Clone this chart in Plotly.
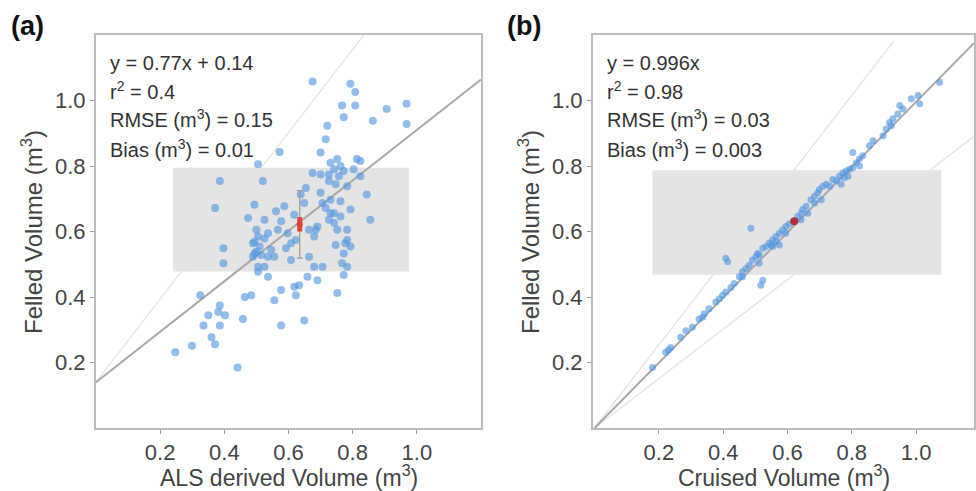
import numpy as np
import plotly.graph_objects as go

# ---------------- Data ----------------
# Panel (a): ALS derived volume vs felled volume
als_x = [0.675, 0.793, 0.808, 0.767, 0.808, 0.906, 0.968, 0.968, 0.772, 0.863,
         0.721, 0.716, 0.700, 0.572, 0.813, 0.505, 0.731, 0.752, 0.742, 0.762,
         0.726, 0.757, 0.772, 0.803, 0.675, 0.700, 0.824, 0.520, 0.386, 0.654,
         0.638, 0.844, 0.371, 0.494, 0.587, 0.561, 0.618, 0.793, 0.855, 0.706,
         0.731, 0.726, 0.742, 0.752, 0.762, 0.474, 0.525, 0.685, 0.680, 0.783,
         0.777, 0.747, 0.489, 0.494, 0.397, 0.397, 0.536, 0.505, 0.592, 0.608,
         0.664, 0.706, 0.767, 0.772, 0.659, 0.690, 0.484, 0.556, 0.577, 0.623,
         0.633, 0.752, 0.325, 0.458, 0.577, 0.649, 0.386, 0.381, 0.402, 0.350,
         0.335, 0.386, 0.360, 0.371, 0.299, 0.247, 0.441, 0.500, 0.505, 0.494,
         0.510, 0.500, 0.515, 0.525, 0.536, 0.489, 0.546, 0.556, 0.567, 0.577,
         0.597, 0.608, 0.623, 0.664, 0.690, 0.716, 0.731, 0.742, 0.762, 0.783,
         0.793, 0.772, 0.783, 0.726, 0.747, 0.783, 0.700, 0.649, 0.525, 0.536,
         0.505, 0.464, 0.618, 0.680, 0.824]
als_y = [1.058, 1.051, 1.026, 0.985, 0.985, 0.974, 0.990, 0.928, 0.949, 0.938,
         0.923, 0.882, 0.841, 0.843, 0.821, 0.805, 0.810, 0.821, 0.790, 0.800,
         0.774, 0.769, 0.785, 0.790, 0.779, 0.774, 0.769, 0.754, 0.754, 0.733,
         0.713, 0.713, 0.672, 0.682, 0.677, 0.662, 0.651, 0.667, 0.636, 0.687,
         0.656, 0.636, 0.626, 0.605, 0.692, 0.641, 0.636, 0.605, 0.585, 0.605,
         0.564, 0.559, 0.564, 0.533, 0.549, 0.503, 0.523, 0.492, 0.549, 0.513,
         0.523, 0.492, 0.503, 0.467, 0.462, 0.451, 0.405, 0.390, 0.421, 0.405,
         0.436, 0.412, 0.405, 0.333, 0.313, 0.328, 0.374, 0.354, 0.344, 0.344,
         0.313, 0.313, 0.277, 0.256, 0.251, 0.231, 0.185, 0.605, 0.585, 0.569,
         0.554, 0.538, 0.528, 0.579, 0.595, 0.523, 0.544, 0.523, 0.605, 0.631,
         0.595, 0.564, 0.574, 0.605, 0.615, 0.672, 0.697, 0.656, 0.646, 0.574,
         0.554, 0.533, 0.492, 0.754, 0.744, 0.738, 0.718, 0.687, 0.492, 0.462,
         0.477, 0.400, 0.431, 0.492, 0.815]

# Panel (b): cruised volume vs felled volume
cru_x = [0.180, 0.221, 0.237, 0.230, 0.268, 0.284, 0.304, 0.325, 0.336, 0.341,
         0.356, 0.377, 0.388, 0.398, 0.408, 0.424, 0.434, 0.450, 0.460, 0.471,
         0.481, 0.491, 0.502, 0.507, 0.512, 0.523, 0.533, 0.543, 0.549, 0.554,
         0.564, 0.575, 0.585, 0.595, 0.606, 0.632, 0.642, 0.647, 0.658, 0.673,
         0.684, 0.694, 0.699, 0.710, 0.720, 0.741, 0.762, 0.772, 0.782, 0.777,
         0.793, 0.803, 0.814, 0.824, 0.834, 0.803, 0.855, 0.866, 0.897, 0.907,
         0.917, 0.928, 0.943, 0.959, 0.949, 0.985, 1.006, 1.011, 1.073, 0.923,
         0.486, 0.408, 0.414, 0.517, 0.523, 0.554, 0.564, 0.575, 0.663, 0.684,
         0.705, 0.731, 0.752, 0.767, 0.788, 0.824, 0.512, 0.460, 0.595, 0.642]
cru_y = [0.185, 0.231, 0.246, 0.238, 0.277, 0.297, 0.308, 0.333, 0.338, 0.349,
         0.364, 0.385, 0.395, 0.405, 0.415, 0.429, 0.441, 0.462, 0.477, 0.487,
         0.497, 0.513, 0.523, 0.533, 0.528, 0.549, 0.554, 0.564, 0.559, 0.574,
         0.585, 0.595, 0.605, 0.615, 0.624, 0.646, 0.656, 0.667, 0.677, 0.697,
         0.708, 0.718, 0.728, 0.738, 0.744, 0.759, 0.769, 0.779, 0.785, 0.764,
         0.790, 0.795, 0.810, 0.821, 0.831, 0.841, 0.862, 0.877, 0.892, 0.913,
         0.933, 0.944, 0.959, 0.974, 0.985, 1.005, 1.015, 0.990, 1.056, 0.923,
         0.610, 0.518, 0.508, 0.436, 0.451, 0.554, 0.569, 0.559, 0.656, 0.687,
         0.697, 0.738, 0.754, 0.744, 0.769, 0.800, 0.503, 0.462, 0.595, 0.636]

# Mean markers
mean_a = (0.635, 0.622)
mean_a_sd = 0.103
mean_a_ci = 0.022
mean_b = (0.621, 0.631)

# Shaded ranges [x0, x1, y0, y1]
rect_a = [0.24, 0.975, 0.478, 0.795]
rect_b = [0.18, 1.078, 0.468, 0.787]

# Fit / reference lines (slope, intercept, x_end)
fit_a = (0.77, 0.14, 1.2)
ref_a_upper = (1.27, 0.14, 0.835)
fit_b = (0.996, 0.0, 1.18)
ref_b_upper = (1.27, 0.0, 0.93)
ref_b_lower = (0.755, 0.0, 1.18)

stats_a = ["y = 0.77x + 0.14", "r<sup>2</sup> = 0.4",
           "RMSE (m<sup>3</sup>) = 0.15", "Bias (m<sup>3</sup>) = 0.01"]
stats_b = ["y = 0.996x", "r<sup>2</sup> = 0.98",
           "RMSE (m<sup>3</sup>) = 0.03", "Bias (m<sup>3</sup>) = 0.003"]

tick_vals = [0.2, 0.4, 0.6, 0.8, 1.0]
tick_text = ["0.2", "0.4", "0.6", "0.8", "1.0"]

# ---------------- Figure ----------------
W, H = 976, 491
FONT = "Liberation Sans, Arial, sans-serif"
PT_COLOR = "rgba(80,150,225,0.62)"
fig = go.Figure()


def line_trace(params, color, width, xa, ya):
    s, b, xe = params
    xs = np.array([0.0, xe])
    return go.Scatter(x=xs, y=s * xs + b, mode="lines",
                      line=dict(color=color, width=width),
                      xaxis=xa, yaxis=ya, showlegend=False, hoverinfo="skip")


# Panel a
fig.add_trace(line_trace(ref_a_upper, "#e6e6e6", 1.5, "x", "y"))
fig.add_trace(line_trace(fit_a, "#a8a8a8", 2, "x", "y"))
fig.add_trace(go.Scatter(x=als_x, y=als_y, mode="markers",
                         marker=dict(color=PT_COLOR, size=8, line=dict(width=0)),
                         xaxis="x", yaxis="y", showlegend=False))
fig.add_trace(go.Scatter(x=[mean_a[0]], y=[mean_a[1]], mode="markers",
                         marker=dict(color="rgba(0,0,0,0)", size=2),
                         error_y=dict(type="constant", value=mean_a_sd, color="#9a9a9a",
                                      thickness=1.2, width=3),
                         xaxis="x", yaxis="y", showlegend=False))
fig.add_trace(go.Scatter(x=[mean_a[0]], y=[mean_a[1]], mode="markers",
                         marker=dict(color="#e0403a", size=6),
                         error_y=dict(type="constant", value=mean_a_ci, color="#e0403a",
                                      thickness=5, width=0),
                         xaxis="x", yaxis="y", showlegend=False))

# Panel b
fig.add_trace(line_trace(ref_b_upper, "#e6e6e6", 1.5, "x2", "y2"))
fig.add_trace(line_trace(ref_b_lower, "#e6e6e6", 1.5, "x2", "y2"))
fig.add_trace(line_trace(fit_b, "#a8a8a8", 2, "x2", "y2"))
fig.add_trace(go.Scatter(x=cru_x, y=cru_y, mode="markers",
                         marker=dict(color=PT_COLOR, size=7, line=dict(width=0)),
                         xaxis="x2", yaxis="y2", showlegend=False))
fig.add_trace(go.Scatter(x=[mean_b[0]], y=[mean_b[1]], mode="markers",
                         marker=dict(color="#b0303c", size=8),
                         xaxis="x2", yaxis="y2", showlegend=False))

# shaded rectangles
for r, xr, yr in [(rect_a, "x", "y"), (rect_b, "x2", "y2")]:
    fig.add_shape(type="rect", xref=xr, yref=yr, x0=r[0], x1=r[1], y0=r[2], y1=r[3],
                  fillcolor="#e4e4e4", line=dict(width=0), layer="below")

axis_common = dict(showgrid=False, zeroline=False, showline=True, mirror=True,
                   linecolor="#bdbdbd", linewidth=2, ticks="outside", ticklen=4,
                   tickcolor="#9a9a9a", tickvals=tick_vals, ticktext=tick_text,
                   tickfont=dict(family=FONT, size=22, color="#444"))

pa_x = [96 / W, 481 / W]
pb_x = [593 / W, 974 / W]
p_y = [1 - 428 / H, 1 - 35 / H]

fig.update_layout(
    width=W, height=H, margin=dict(l=0, r=0, t=0, b=0),
    paper_bgcolor="white", plot_bgcolor="white",
    xaxis=dict(domain=pa_x, range=[0.0, 1.2], anchor="y", **axis_common),
    yaxis=dict(domain=p_y, range=[0.0, 1.2], anchor="x", **axis_common),
    xaxis2=dict(domain=pb_x, range=[-0.005, 1.18], anchor="y2", **axis_common),
    yaxis2=dict(domain=p_y, range=[0.0, 1.2], anchor="x2", **axis_common),
)

# Stats text
line_ys = [63, 91, 119, 148]
for lines, x0 in [(stats_a, 108), (stats_b, 605)]:
    for t, yy in zip(lines, line_ys):
        fig.add_annotation(text=t, x=x0 / W, y=1 - yy / H, xref="paper", yref="paper",
                           xanchor="left", yanchor="middle", showarrow=False,
                           font=dict(family=FONT, size=20, color="#333"))

# Axis titles
for txt, cx in [("ALS derived Volume (m<sup>3</sup>)", (96 + 481) / 2),
                ("Cruised Volume (m<sup>3</sup>)", (593 + 974) / 2)]:
    fig.add_annotation(text=txt, x=cx / W, y=1 - 476 / H, xref="paper", yref="paper",
                       xanchor="center", yanchor="middle", showarrow=False,
                       font=dict(family=FONT, size=23, color="#444"))
for cx in [32, 529]:
    fig.add_annotation(text="Felled Volume (m<sup>3</sup>)", x=cx / W, y=1 - 232 / H,
                       xref="paper", yref="paper", textangle=-90,
                       xanchor="center", yanchor="middle", showarrow=False,
                       font=dict(family=FONT, size=24, color="#444"))

# Panel labels
for txt, cx in [("(a)", 9), ("(b)", 505)]:
    fig.add_annotation(text="<b>%s</b>" % txt, x=cx / W, y=1 - 26 / H,
                       xref="paper", yref="paper", xanchor="left", yanchor="middle",
                       showarrow=False, font=dict(family=FONT, size=27, color="#111"))

fig.write_html("out.html", config={"displayModeBar": False},
               post_script="document.body.style.margin='0';document.body.style.padding='0';")
